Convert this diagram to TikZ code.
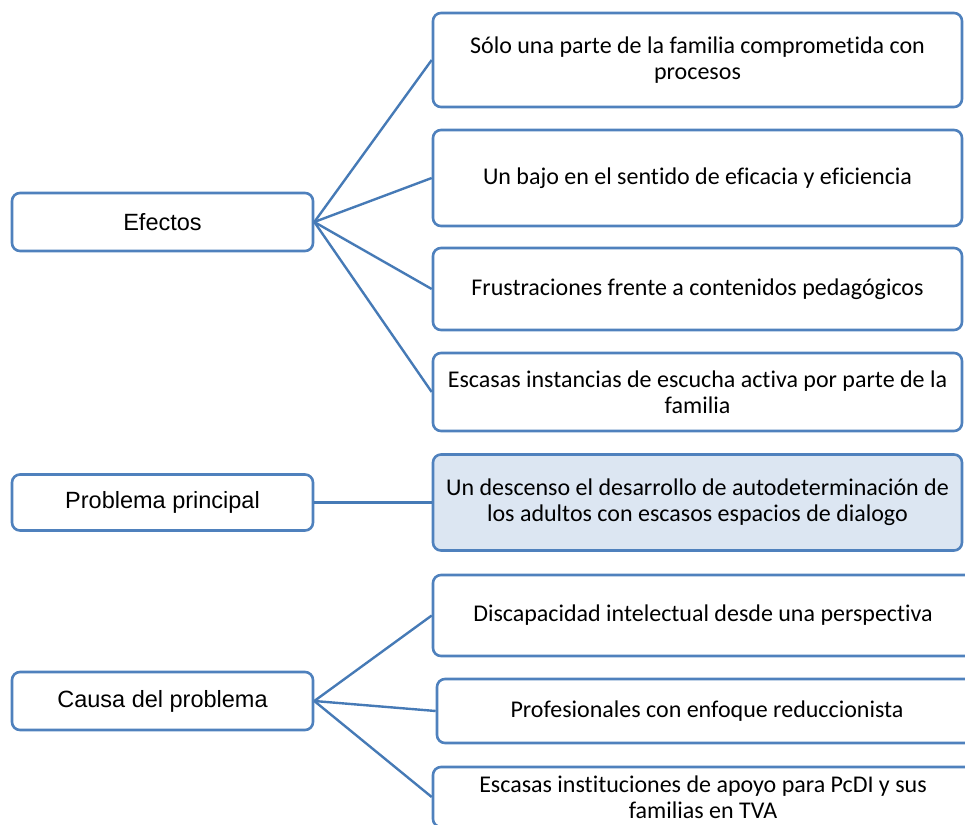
\documentclass[tikz,border=0pt]{standalone}
\usepackage{fontspec}
\setmainfont{Carlito}[Ligatures=NoCommon]
\newfontfamily\arialfont{Liberation Sans}
\usetikzlibrary{positioning}
\definecolor{boxblue}{RGB}{79,129,189}
\definecolor{linkblue}{RGB}{70,122,182}
\definecolor{mainfill}{RGB}{220,230,242}

\begin{document}
\begin{tikzpicture}[x=1pt,y=-1pt,
    leftbox/.style={draw=boxblue, line width=2.6pt, rounded corners=8pt, fill=white,
        minimum width=301pt, minimum height=58pt, inner sep=0pt,
        font=\arialfont\fontsize{23.5}{28}\selectfont},
    rightbox/.style={draw=boxblue, line width=2.6pt, rounded corners=8pt, fill=white,
        minimum width=529pt, inner sep=0pt, align=center,
        font=\fontsize{24}{26}\selectfont},
    link/.style={draw=linkblue, line width=2.4pt}]

% Fix the page to the picture size
\useasboundingbox (0,0) rectangle (965,824);

% Left column
\node[leftbox] (efectos) at (162.5,222) {Efectos};
\node[leftbox, minimum height=56pt] (problema) at (162.5,502.5) {Problema principal};
\node[leftbox] (causa) at (162.5,701) {Causa del problema};

% Effects
\node[rightbox, minimum height=94pt] (e1) at (697.5,60)
    {Sólo una parte de la familia comprometida con\\procesos};
\node[rightbox, minimum height=96pt] (e2) at (697.5,178)
    {Un bajo en el sentido de eficacia y eficiencia};
\node[rightbox, minimum height=82pt] (e3) at (697.5,289)
    {Frustraciones frente a contenidos pedagógicos};
\node[rightbox, minimum height=78pt] (e4) at (697.5,392)
    {Escasas instancias de escucha activa por parte de la\\familia};

% Main problem
\node[rightbox, fill=mainfill, minimum height=96pt] (principal) at (697.5,502.5)
    {Un descenso el desarrollo de autodeterminación de\\los adultos con escasos espacios de dialogo};

% Causes
\node[rightbox, minimum width=540pt, minimum height=81pt] (c1) at (703,615.5)
    {Discapacidad intelectual desde una perspectiva};
\node[rightbox, minimum width=540pt, minimum height=64pt] (c2) at (707,711)
    {Profesionales con enfoque reduccionista};
\node[rightbox, minimum width=540pt, minimum height=60pt] (c3) at (703,797)
    {Escasas instituciones de apoyo para PcDI y sus\\familias en TVA};

% Connectors
\foreach \k in {e1,e2,e3,e4} {
    \draw[link] (efectos.east) -- (\k.west);
}
\draw[link] (problema.east) -- (principal.west);
\foreach \k in {c1,c2,c3} {
    \draw[link] (causa.east) -- (\k.west);
}

\end{tikzpicture}
\end{document}
